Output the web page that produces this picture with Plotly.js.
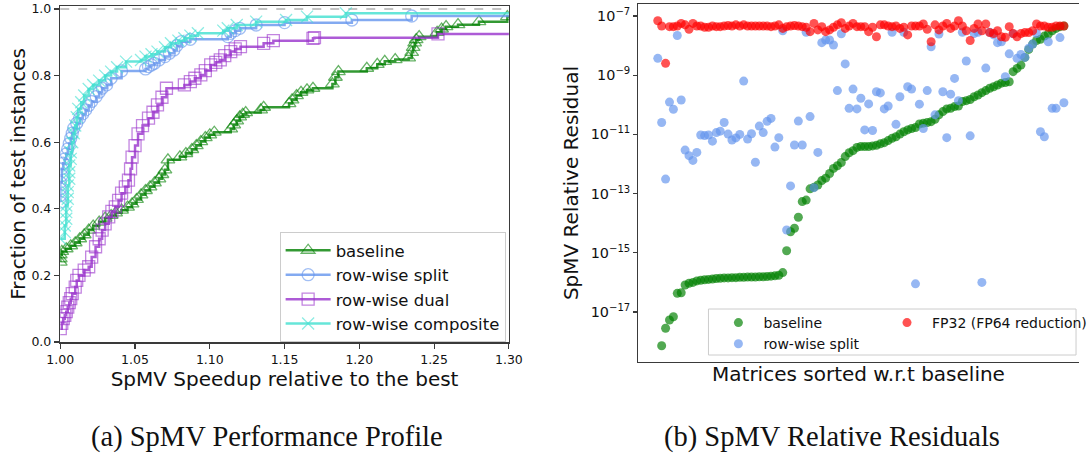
<!DOCTYPE html>
<html>
<head>
<meta charset="utf-8">
<script src="https://cdn.plot.ly/plotly-3.0.1.min.js"></script>
<style>
  html, body { margin: 0; padding: 0; background: #fff; overflow: hidden; }
  #chart { width: 1092px; height: 456px; }
</style>
</head>
<body>
<div id="chart"></div>
<script>
// ---------- (a) Performance profile data ----------
const baselineSpeedup = [1.000,1.000,1.000,1.001,1.004,1.007,1.010,1.013,1.016,1.019,1.022,1.026,1.030,1.034,1.037,1.041,1.045,1.048,1.051,1.054,1.057,1.060,1.063,1.066,1.068,1.070,1.072,1.080,1.084,1.088,1.091,1.094,1.097,1.100,1.103,1.114,1.116,1.118,1.120,1.122,1.124,1.134,1.136,1.153,1.155,1.158,1.161,1.165,1.169,1.182,1.184,1.186,1.205,1.212,1.217,1.224,1.233,1.235,1.236,1.237,1.238,1.240,1.252,1.255,1.258,1.266,1.280,1.299,1.350];
const baselineFraction = [0.240,0.250,0.262,0.272,0.280,0.289,0.298,0.310,0.322,0.336,0.348,0.360,0.372,0.380,0.388,0.396,0.405,0.415,0.428,0.442,0.455,0.466,0.478,0.490,0.503,0.517,0.547,0.556,0.566,0.578,0.590,0.602,0.614,0.622,0.630,0.640,0.652,0.664,0.676,0.684,0.689,0.697,0.705,0.716,0.727,0.740,0.750,0.757,0.762,0.775,0.795,0.812,0.822,0.834,0.843,0.848,0.853,0.870,0.885,0.898,0.908,0.917,0.930,0.940,0.947,0.953,0.962,0.977,0.990];

const splitSpeedup = [1.000,1.000,1.000,1.000,1.001,1.001,1.002,1.003,1.004,1.005,1.006,1.007,1.008,1.009,1.011,1.013,1.015,1.017,1.019,1.021,1.024,1.026,1.028,1.031,1.034,1.041,1.057,1.059,1.061,1.063,1.066,1.070,1.073,1.076,1.078,1.081,1.087,1.112,1.114,1.117,1.120,1.131,1.150,1.195,1.235,1.350];
const splitFraction = [0.420,0.440,0.460,0.480,0.500,0.520,0.537,0.550,0.565,0.580,0.596,0.612,0.627,0.642,0.657,0.672,0.685,0.697,0.710,0.722,0.737,0.750,0.762,0.772,0.792,0.814,0.820,0.827,0.832,0.837,0.847,0.857,0.867,0.877,0.890,0.902,0.909,0.917,0.927,0.935,0.942,0.952,0.959,0.967,0.979,0.982];

const dualSpeedup = [1.000,1.001,1.002,1.003,1.004,1.005,1.006,1.007,1.008,1.010,1.011,1.0125,1.016,1.019,1.021,1.0236,1.026,1.028,1.030,1.0324,1.0345,1.0368,1.039,1.041,1.0435,1.0456,1.047,1.048,1.050,1.052,1.055,1.059,1.062,1.065,1.068,1.071,1.083,1.087,1.090,1.094,1.097,1.1006,1.104,1.107,1.110,1.114,1.117,1.1205,1.136,1.1425,1.169,1.170,1.2526,1.350];
const dualFraction = [0.040,0.056,0.070,0.080,0.091,0.105,0.118,0.130,0.145,0.165,0.185,0.200,0.216,0.226,0.255,0.286,0.310,0.336,0.355,0.376,0.392,0.406,0.425,0.447,0.466,0.486,0.520,0.555,0.590,0.625,0.650,0.672,0.690,0.712,0.735,0.762,0.772,0.782,0.792,0.802,0.815,0.832,0.840,0.847,0.860,0.872,0.880,0.887,0.897,0.905,0.912,0.914,0.925,0.925];

const compositeSpeedup = [1.000,1.003,1.003,1.004,1.004,1.004,1.005,1.005,1.005,1.006,1.006,1.006,1.007,1.007,1.008,1.009,1.010,1.011,1.012,1.014,1.016,1.019,1.022,1.026,1.030,1.034,1.038,1.044,1.054,1.057,1.061,1.065,1.070,1.074,1.079,1.083,1.087,1.092,1.109,1.112,1.118,1.131,1.151,1.165,1.191,1.350];
const compositeFraction = [0.310,0.330,0.350,0.370,0.390,0.410,0.430,0.450,0.470,0.490,0.510,0.530,0.550,0.570,0.600,0.627,0.650,0.675,0.700,0.720,0.740,0.760,0.772,0.785,0.800,0.812,0.825,0.842,0.847,0.857,0.864,0.872,0.885,0.897,0.905,0.912,0.920,0.927,0.935,0.942,0.952,0.962,0.967,0.977,0.987,0.990];

const xTickVals = [1.00,1.05,1.10,1.15,1.20,1.25,1.30];
const yTickVals = [0.0,0.2,0.4,0.6,0.8,1.0];

// ---------- (b) Relative residuals (log10 of residual, per matrix) ----------
const baselineLog10 = [null,-18.14,-17.55,-17.27,-17.16,-16.37,-16.35,-16.09,-16.03,-16.00,-15.95,-15.93,-15.91,-15.90,-15.89,-15.87,-15.86,-15.85,-15.85,-15.84,-15.84,-15.83,-15.83,-15.82,-15.82,-15.82,-15.81,-15.81,-15.80,-15.79,-15.78,-15.76,-15.67,-14.93,-14.29,-14.17,-13.80,-13.27,-13.22,-12.84,-12.79,-12.71,-12.56,-12.48,-12.32,-12.15,-12.06,-11.95,-11.75,-11.62,-11.55,-11.44,-11.41,-11.41,-11.41,-11.39,-11.37,-11.32,-11.28,-11.21,-11.13,-11.08,-10.99,-10.91,-10.85,-10.80,-10.77,-10.65,-10.62,-10.60,-10.57,-10.49,-10.34,-10.23,-10.14,-10.12,-10.06,-10.04,-9.89,-9.86,-9.82,-9.73,-9.67,-9.59,-9.52,-9.44,-9.39,-9.33,-9.27,-9.25,-9.22,-8.88,-8.77,-8.66,-8.40,-8.13,-7.95,-7.83,-7.79,-7.68,-7.61,-7.50,-7.42,-7.36,-7.34];
const splitLog10 = [-8.43,-10.60,-12.51,-9.91,-10.15,-7.66,-9.84,-11.53,-11.72,-11.88,-11.61,-11.02,-11.04,-11.02,-11.23,-10.94,-10.89,-10.60,-10.99,-11.19,-11.12,-11.00,-9.20,-11.16,-10.98,-11.94,-10.72,-10.94,-10.56,-10.46,-11.43,-11.11,-7.50,-14.23,-12.74,-11.36,-10.55,-11.36,-7.55,-10.40,-12.80,-11.61,-7.90,-7.81,-7.81,-7.98,-9.52,-7.60,-8.62,-10.12,-9.47,-10.14,-9.78,-10.85,-9.97,-10.87,-9.56,-9.60,-10.14,-10.04,-7.55,-10.66,-9.73,-7.55,-9.39,-9.47,-16.05,-9.98,-10.80,-9.52,-8.04,-10.34,-7.61,-9.56,-11.11,-9.64,-9.11,-9.86,-7.55,-8.52,-11.05,-7.59,-7.55,-16.00,-8.76,-7.55,-7.64,-7.90,-7.87,-9.05,-8.28,-7.60,-8.43,-8.30,-8.40,-8.09,-7.95,-7.59,-10.91,-11.08,-7.87,-10.12,-10.12,-7.73,-9.93];
const fp32Log10 = [-7.16,-7.34,-8.60,-7.36,-7.36,-7.34,-7.25,-7.30,-7.45,-7.25,-7.34,-7.34,-7.38,-7.38,-7.34,-7.36,-7.36,-7.34,-7.32,-7.34,-7.30,-7.34,-7.30,-7.34,-7.34,-7.34,-7.34,-7.34,-7.34,-7.36,-7.34,-7.30,-7.42,-7.36,-7.34,-7.32,-7.34,-7.36,-7.38,-7.53,-7.25,-7.47,-7.36,-7.53,-7.47,-7.38,-7.30,-7.23,-7.42,-7.34,-7.25,-7.36,-7.36,-7.36,-7.53,-7.38,-7.70,-7.30,-7.30,-7.34,-7.36,-7.34,-7.42,-7.38,-7.64,-7.34,-7.34,-7.34,-7.27,-7.45,-7.87,-7.30,-7.47,-7.34,-7.25,-7.42,-7.34,-7.16,-7.34,-7.50,-7.83,-7.42,-7.27,-7.50,-7.27,-7.56,-7.59,-7.50,-7.70,-7.72,-7.36,-7.59,-7.70,-7.59,-7.56,-7.56,-7.50,-7.27,-7.34,-7.34,-7.38,-7.38,-7.34,-7.34,-7.34];

const matrixIndex = baselineLog10.map((_, i) => i);
const fromLog = arr => arr.map(v => (v === null ? null : Math.pow(10, v)));

// ---------- styling ----------
const FONT = 'DejaVu Sans, sans-serif';
const W = 1092, H = 456;
const px = x => x / W;           // pixel -> paper x
const py = y => 1 - y / H;       // pixel -> paper y

const C_GREEN = '0,128,0', C_BLUE = '100,149,237', C_PURPLE = '153,50,204', C_CYAN = '64,224,208';

function profileTrace(name, xs, ys, rgb, symbol) {
  return {
    type: 'scatter', mode: 'lines+markers', name: name,
    x: xs, y: ys, xaxis: 'x', yaxis: 'y', legend: 'legend',
    line: { shape: 'hv', width: 2.5, color: 'rgba(' + rgb + ',0.8)' },
    marker: { symbol: symbol, size: 12, color: 'rgba(' + rgb + ',0.6)', line: { width: 1.3 } },
    cliponaxis: true
  };
}

function residualTrace(name, ys, rgb, legend, rank) {
  return {
    type: 'scatter', mode: 'markers', name: name,
    x: matrixIndex, y: fromLog(ys), xaxis: 'x2', yaxis: 'y2', legend: legend, legendrank: rank,
    marker: { symbol: 'circle', size: 9, color: 'rgba(' + rgb + ',0.68)', line: { width: 0 } }
  };
}

const data = [
  profileTrace('baseline', baselineSpeedup, baselineFraction, C_GREEN, 'triangle-up-open'),
  profileTrace('row-wise split', splitSpeedup, splitFraction, C_BLUE, 'circle-open'),
  profileTrace('row-wise dual', dualSpeedup, dualFraction, C_PURPLE, 'square-open'),
  profileTrace('row-wise composite', compositeSpeedup, compositeFraction, C_CYAN, 'x-thin-open'),
  residualTrace('baseline', baselineLog10, C_GREEN, 'legend2', 1),
  residualTrace('row-wise split', splitLog10, C_BLUE, 'legend2', 2),
  residualTrace('FP32 (FP64 reduction)', fp32Log10, '255,0,0', 'legend3', 1)
];

const axisCommon = {
  showgrid: false, zeroline: false, showline: true, linecolor: '#3a3a3a', linewidth: 1.5,
  ticks: 'outside', ticklen: 5, tickwidth: 1.2, tickcolor: '#3a3a3a',
  tickfont: { family: FONT, size: 12.5, color: '#111' }
};

const legendCommon = {
  bgcolor: 'rgba(0,0,0,0)', borderwidth: 0, xanchor: 'left', yanchor: 'top',
  orientation: 'v', tracegroupgap: 0
};

const layout = {
  width: W, height: H,
  margin: { l: 0, r: 0, t: 0, b: 0 },
  paper_bgcolor: '#fff', plot_bgcolor: '#fff',
  font: { family: FONT, color: '#111' },
  showlegend: true,
  xaxis: Object.assign({}, axisCommon, {
    domain: [px(61), px(515)], range: [1.0, 1.3], anchor: 'y', mirror: true,
    tickvals: xTickVals, tickformat: '.2f',
    title: { text: 'SpMV Speedup relative to the best', font: { family: FONT, size: 20, color: '#111' }, standoff: 0 }
  }),
  yaxis: Object.assign({}, axisCommon, {
    domain: [py(342), py(6)], range: [0, 1.009], anchor: 'x', mirror: true,
    tickvals: yTickVals, tickformat: '.1f',
    title: { text: 'Fraction of test instances', font: { family: FONT, size: 20, color: '#111' }, standoff: 0 }
  }),
  xaxis2: Object.assign({}, axisCommon, {
    domain: [px(645.7), 1], range: [-5.06, 107.87], anchor: 'y2', mirror: true,
    ticks: '', showticklabels: false,
    title: { text: 'Matrices sorted w.r.t baseline', font: { family: FONT, size: 20, color: '#111' }, standoff: 5 }
  }),
  yaxis2: Object.assign({}, axisCommon, {
    domain: [py(361.7), py(4)], type: 'log', range: [-18.68, -6.595], anchor: 'x2',
    tick0: 1, dtick: 2, exponentformat: 'power', ticklen: 4,
    tickfont: { family: FONT, size: 11.5, color: '#111' },
    title: { text: '' }
  }),
  legend: Object.assign({}, legendCommon, {
    x: px(283), y: py(232), itemwidth: 45,
    font: { family: FONT, size: 16.5, color: '#111' },
    bgcolor: 'rgba(255,255,255,0.85)', bordercolor: '#cccccc', borderwidth: 1
  }),
  legend2: Object.assign({}, legendCommon, { x: px(722), y: py(307), itemwidth: 40,
    font: { family: FONT, size: 14, color: '#111' } }),
  legend3: Object.assign({}, legendCommon, { x: px(893), y: py(307), itemwidth: 40,
    font: { family: FONT, size: 14, color: '#111' } }),
  shapes: [
    { type: 'line', xref: 'x domain', x0: 0, x1: 1, yref: 'y', y0: 1, y1: 1,
      line: { color: '#888', width: 1, dash: 'dash' }, layer: 'below' },
    { type: 'rect', xref: 'paper', yref: 'paper', x0: px(717), x1: px(1089), y0: py(355), y1: py(309),
      line: { color: '#cccccc', width: 1 }, fillcolor: 'rgba(255,255,255,0.85)', layer: 'above' }
  ],
  annotations: [
    { xref: 'paper', yref: 'paper', x: px(578), y: py(183), text: 'SpMV Relative Residual', textangle: -90,
      showarrow: false, xanchor: 'center', yanchor: 'middle',
      font: { family: FONT, size: 20, color: '#111' } },
    { xref: 'paper', yref: 'paper', x: px(270), y: py(437), text: '(a) SpMV Performance Profile',
      showarrow: false, xanchor: 'center', yanchor: 'middle',
      font: { family: 'Liberation Serif, serif', size: 28.5, color: '#111' } },
    { xref: 'paper', yref: 'paper', x: px(842), y: py(437), text: '(b) SpMV Relative Residuals',
      showarrow: false, xanchor: 'center', yanchor: 'middle',
      font: { family: 'Liberation Serif, serif', size: 28.5, color: '#111' } }
  ]
};

Plotly.newPlot('chart', data, layout, { staticPlot: true, displayModeBar: false });
</script>
</body>
</html>
